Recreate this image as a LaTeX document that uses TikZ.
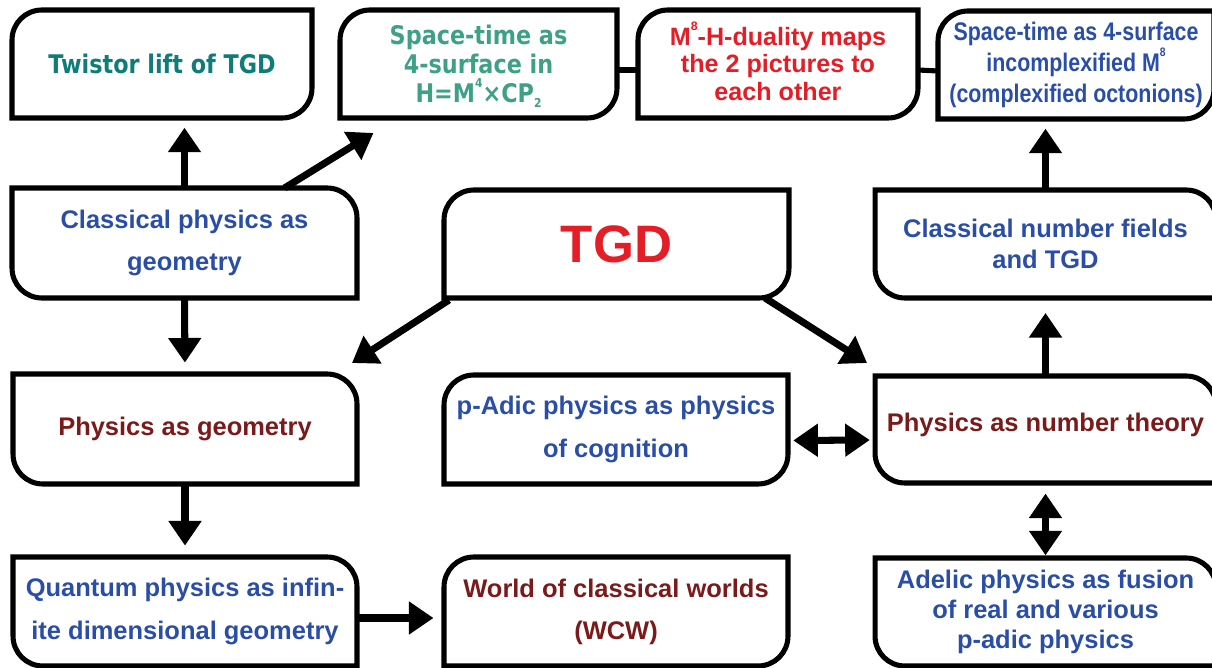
\documentclass[tikz,border=0pt]{standalone}
\usepackage{fontspec}
\setmainfont{Liberation Sans}
\newfontfamily\vfont{DejaVu Sans}[FakeStretch=0.87]
\newfontfamily\nfont{Liberation Sans}[FakeStretch=0.84]
\usetikzlibrary{arrows.meta,calc}

\definecolor{tgdteal}{HTML}{0E7C78}
\definecolor{tgdgreen}{HTML}{3FA088}
\definecolor{tgdred}{HTML}{E41E26}
\definecolor{tgdblue}{HTML}{2A4EA6}
\definecolor{tgddark}{HTML}{7A1A1A}

\tikzset{
  box/.style={rectangle, inner sep=0pt, outer sep=0pt, align=center, minimum height=2.16cm},
  edge/.style={line width=2.9pt},
  arr/.style={line width=4pt, -{Triangle[width=18pt,length=14pt]}},
  twoarr/.style={line width=4pt, {Triangle[width=18pt,length=14pt]}-{Triangle[width=18pt,length=14pt]}},
  wide/.style={font=\bfseries\fontsize{14.5}{24}\selectfont},
  mid/.style={font=\bfseries\fontsize{14.5}{18}\selectfont},
  tight/.style={font=\bfseries\fontsize{14.3}{15.6}\selectfont},
  vtxt/.style={font=\vfont\bfseries\fontsize{14.6}{16.4}\selectfont},
  ntxt/.style={font=\nfont\bfseries\fontsize{14.5}{17.6}\selectfont},
}

% small raised and lowered digits
\newcommand{\hi}[1]{\raisebox{0.58em}[0pt][0pt]{\fontsize{7}{7}\selectfont #1}}
\newcommand{\lo}[1]{\raisebox{-0.2em}[0pt][0pt]{\fontsize{7}{7}\selectfont #1}}

% outline: rounded top left and bottom right
\newcommand{\boxA}[1]{\draw[edge] (#1.south west) -- ($(#1.south east)+(-17pt,0)$)
  arc[start angle=-90,end angle=0,radius=17pt] -- (#1.north east)
  -- ($(#1.north west)+(17pt,0)$) arc[start angle=90,end angle=180,radius=17pt] -- cycle;}
% outline: rounded top right and bottom left
\newcommand{\boxB}[1]{\draw[edge] (#1.north west) -- ($(#1.north east)+(-17pt,0)$)
  arc[start angle=90,end angle=0,radius=17pt] -- (#1.south east)
  -- ($(#1.south west)+(17pt,0)$) arc[start angle=270,end angle=180,radius=17pt] -- cycle;}

\begin{document}
\begin{tikzpicture}[x=0.02cm, y=-0.02cm]
    \useasboundingbox (0,0) rectangle (1212,668);
    \clip (0,0) rectangle (1212,668);

    % top row
    \node[box, vtxt, text=tgdteal, minimum width=6cm] (twistor) at (162,64) {Twistor lift of TGD};
    \node[box, vtxt, text=tgdgreen, minimum width=5.54cm] (spaceH) at (478.5,64)
        {Space-time as\\4-surface in\\H=M\hi{4}×CP\lo{2}};
    \node[box, tight, text=tgdred, minimum width=5.6cm] (duality) at (778,64)
        {M\hi{8}-H-duality maps\\the 2 pictures to\\each other};
    \node[box, ntxt, text=tgdblue, minimum width=5.52cm] (spaceM) at (1076,65)
        {Space-time as 4-surface\\incomplexified M\hi{8}\\(complexified octonions)};

    % second row
    \node[box, wide, text=tgdblue, minimum width=6.9cm, minimum height=2.2cm] (classical) at (184.5,243)
        {Classical physics as\\geometry};
    \node[box, font=\bfseries\fontsize{30}{30}\selectfont, text=tgdred, minimum width=6.9cm] (tgd) at (616.5,244) {TGD};
    \node[box, mid, text=tgdblue, minimum width=6.82cm] (fields) at (1045.5,244)
        {Classical number fields\\and TGD};

    % third row
    \node[box, wide, text=tgddark, minimum width=6.88cm, minimum height=2.2cm] (geometry) at (185,429) {Physics as geometry};
    \node[box, wide, text=tgdblue, minimum width=6.88cm, minimum height=2.18cm] (padic) at (616,429.5)
        {p-Adic physics as physics\\of cognition};
    \node[box, wide, text=tgddark, minimum width=6.82cm, minimum height=2.14cm] (numtheory) at (1045.5,429.5)
        {Physics as number theory\\[-16pt]};

    % bottom row
    \node[box, wide, text=tgdblue, minimum width=6.88cm, minimum height=2.18cm] (quantum) at (185,611.5)
        {Quantum physics as infin-\\ite dimensional geometry};
    \node[box, wide, text=tgddark, minimum width=6.88cm, minimum height=2.18cm] (wcw) at (616,611.5)
        {World of classical worlds\\(WCW)};
    \node[box, font=\bfseries\fontsize{14.5}{17}\selectfont, text=tgdblue, minimum width=6.82cm] (adelic) at (1045.5,612)
        {Adelic physics as fusion\\of real and various\\p-adic physics};

    \foreach \n in {twistor, spaceH, duality, spaceM, tgd, padic, wcw} {\boxA{\n}}
    \foreach \n in {classical, fields, geometry, numtheory, quantum, adelic} {\boxB{\n}}

    % connectors
    \draw[edge] ($(spaceH.east)+(0,6)$) -- ($(duality.west)+(0,6)$);
    \draw[edge] ($(duality.east)+(0,6)$) -- ($(spaceM.west)+(0,6)$);

    \draw[arr, shorten >=5.5pt] (classical.north) -- (classical.north |- twistor.south);
    \draw[arr] ($(classical.north)+(100,0)$) -- ($(spaceH.south)+(-105,15)$);
    \draw[arr, shorten >=6.5pt] (classical.south) -- (geometry.north);
    \draw[arr, shorten >=6.5pt] (geometry.south) -- (quantum.north);
    \draw[arr, shorten >=6pt] ($(quantum.east)+(0,6.5)$) -- ($(wcw.west)+(0,6.5)$);

    \draw[arr] ($(tgd.south west)+(5,2)$) -- ($(geometry.north east)+(-5,-11)$);
    \draw[arr] ($(tgd.south east)+(-24,0)$) -- ($(numtheory.north west)+(-8,-13)$);

    \draw[twoarr, shorten <=3pt, shorten >=3pt] ($(padic.east)+(0,11)$) -- ($(numtheory.west)+(0,10.5)$);
    \draw[arr, shorten >=8.5pt] (numtheory.north) -- (fields.south);
    \draw[arr, shorten >=5.5pt] (fields.north) -- (fields.north |- spaceM.south);
    \draw[twoarr, shorten <=6pt, shorten >=1.5pt] (numtheory.south) -- (adelic.north);
\end{tikzpicture}
\end{document}
